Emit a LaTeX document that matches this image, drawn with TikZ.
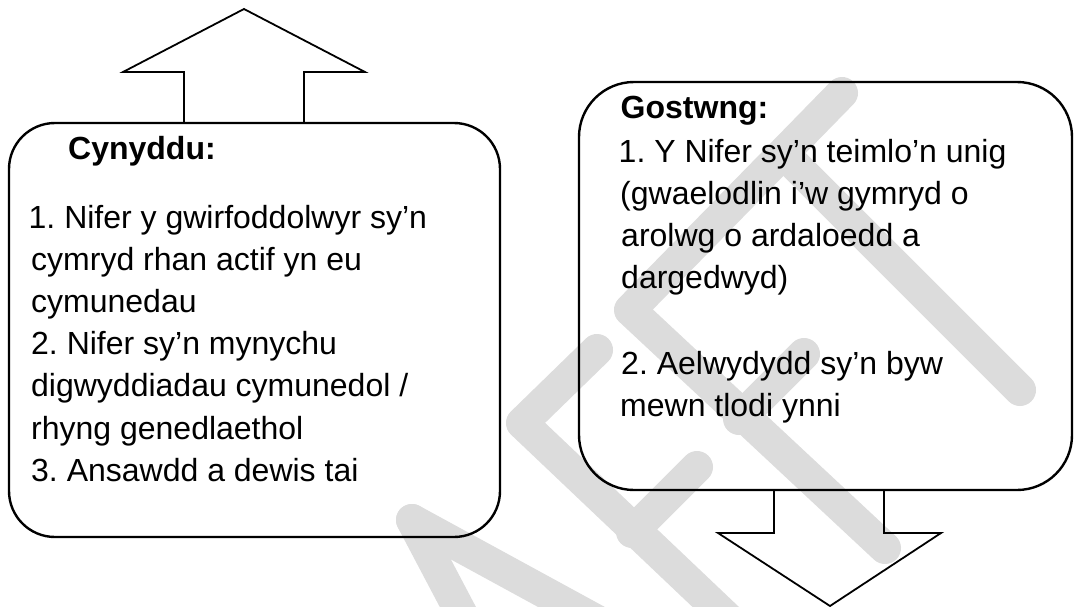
\documentclass[tikz,border=0pt]{standalone}
\usepackage{fontspec}
\setmainfont{Liberation Sans}
\usetikzlibrary{calc}
\definecolor{wm}{RGB}{220,220,220}
\frenchspacing
\begin{document}
\begin{tikzpicture}[x=1pt,y=-1pt,
  box/.style={draw=black, line width=2.4pt, outer sep=0pt, inner sep=0pt},
  blockarrow/.style={draw=black, line width=1.8pt, line join=miter},
  wmstroke/.style={draw=wm, line width=32pt, line cap=round, line join=round},
  txt/.style={anchor=base west, inner sep=0pt, font=\fontsize{32}{42}\selectfont},
  headtxt/.style={anchor=base west, inner sep=0pt, font=\fontsize{32}{42}\selectfont\bfseries}]
\useasboundingbox (0,0) rectangle (1075,607);
% watermark
\begin{scope}
\clip (0,0) rectangle (1075,607);
\draw[wmstroke] (412,520) -- (470,630);
\draw[wmstroke] (412,520) -- (610,628);
\draw[wmstroke] (597,350) -- (522,423) -- (740,630);
\draw[wmstroke] (632,532) -- (697,467);
\draw[wmstroke] (842,93) -- (630,310) -- (885,548);
\draw[wmstroke] (739,419) -- (804,354);
\draw[wmstroke] (784,154) -- (1020,390);
\end{scope}
% boxes
\node[box, rounded corners=46pt, minimum width=491pt, minimum height=414pt] (lbox) at (254.5,330) {};
\node[box, rounded corners=55pt, minimum width=493pt, minimum height=408pt] (rbox) at (825.5,286) {};
% block arrows
\draw[blockarrow] (184,0 |- lbox.north) -- (184,72) -- (123,72) -- (244,9) -- (365,72) -- (304,72) -- (304,0 |- lbox.north);
\draw[blockarrow] (774,0 |- rbox.south) -- (774,533) -- (718,533) -- (830,606) -- (941,533) -- (884,533) -- (884,0 |- rbox.south);
% left text
\node[headtxt] (l0) at (68,159) {Cynyddu:};
\node[txt] (l1) at (28.5,228) {1. Nifer y gwirfoddolwyr sy’n};
\node[txt] (l2) at (31,270) {cymryd rhan actif yn eu};
\node[txt] (l3) at (31,312) {cymunedau};
\node[txt] (l4) at (31,354) {2. Nifer sy’n mynychu};
\node[txt] (l5) at (31,396) {digwyddiadau cymunedol /};
\node[txt] (l6) at (31,439) {rhyng genedlaethol};
\node[txt] (l7) at (31,481) {3. Ansawdd a dewis tai};
% right text
\node[headtxt] (r0) at (620.5,118) {Gostwng:};
\node[txt] (r1) at (618.5,162) {1. Y Nifer sy’n teimlo’n unig};
\node[txt] (r2) at (620,204) {(gwaelodlin i’w gymryd o};
\node[txt] (r3) at (621,246) {arolwg o ardaloedd a};
\node[txt] (r4) at (621,288) {dargedwyd)};
\node[txt] (r5) at (621,374) {2. Aelwydydd sy’n byw};
\node[txt] (r6) at (620,416) {mewn tlodi ynni};
\end{tikzpicture}
\end{document}
